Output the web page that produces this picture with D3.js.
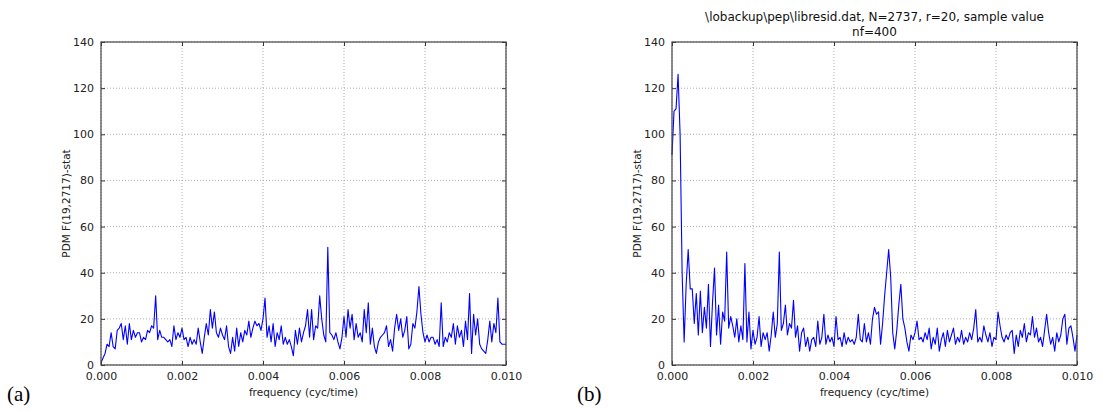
<!DOCTYPE html>
<html><head><meta charset="utf-8">
<script src="https://cdn.jsdelivr.net/npm/d3@7"></script>
<style>body{margin:0;background:#fff;}svg{display:block;}</style>
</head><body>
<svg id="c" width="1110" height="412"></svg>
<script>
// ---- data ----
const freqStep = 0.00005; // sampling grid of the frequency axis
const valuesA = [1,3,5,9,8,14,8,7,15,16,18,11,17,9,18,11,15,12,14,14,
10,12,11,15,14,17,16,30,11,15,12,12,11,10,11,8,17,11,14,12,
16,11,12,8,12,9,11,9,16,10,5,12,18,13,24,16,23,14,12,16,
13,11,17,8,5,12,6,16,8,14,10,15,13,19,12,16,19,17,18,15,
20,29,12,17,10,18,8,14,11,17,9,12,9,11,8,4,15,9,16,10,
14,17,24,12,24,11,17,16,30,20,13,10,51,14,13,11,14,10,7,12,
21,12,24,16,22,11,18,12,14,10,24,14,27,9,16,8,5,10,12,13,
14,17,8,11,6,16,22,15,20,12,15,21,7,9,18,16,23,34,22,14,
10,13,10,12,12,9,11,8,27,8,12,10,14,12,18,9,17,12,15,8,
19,11,31,5,22,13,20,9,7,6,5,11,19,10,18,14,29,10,9,9,9];
const valuesB = [91,110,111,126,100,40,10,35,50,33,33,18,31,13,32,14,25,16,35,8,
27,42,13,26,9,23,19,49,16,21,17,12,20,10,17,11,44,10,23,7,
15,9,12,21,8,14,11,14,6,13,23,12,18,49,15,18,26,13,18,16,
28,12,17,6,14,16,8,12,6,11,12,8,19,9,12,22,9,13,10,12,
8,21,11,12,8,14,9,12,10,11,9,12,22,11,10,18,10,14,9,20,
25,22,23,9,18,30,40,50,38,14,7,15,26,35,20,16,10,6,13,11,
14,19,11,12,10,14,11,16,7,12,9,16,6,11,14,8,15,10,13,16,
9,12,10,15,9,12,10,14,11,16,24,10,12,10,17,13,10,14,8,12,
11,23,17,12,10,13,11,14,15,5,13,8,15,12,18,10,14,13,21,12,
16,10,12,8,15,22,14,9,12,6,14,10,13,20,22,9,16,17,12,6,13];
const xTicks = [0.000,0.002,0.004,0.006,0.008,0.010];
const yTicks = [0,20,40,60,80,100,120,140];
const xLabel = "frequency (cyc/time)";
const yLabel = "PDM F(19,2717)-stat";
const titleLines = ["\\lobackup\\pep\\libresid.dat, N=2737, r=20, sample value", "nf=400"];

const svg = d3.select("#c");
const font = "'DejaVu Sans', sans-serif";

function panel(left, values, tag, tagX, title) {
  const top = 42, w = 405, h = 323;
  const x = d3.scaleLinear().domain([0, 0.01]).range([left, left + w]);
  const y = d3.scaleLinear().domain([0, 140]).range([top + h, top]);
  const g = svg.append("g");
  // grid
  g.selectAll(".gx").data(xTicks).enter().append("line")
    .attr("x1", d => x(d)).attr("x2", d => x(d)).attr("y1", top).attr("y2", top + h)
    .attr("stroke", "#9a9a9a").attr("stroke-width", 0.8).attr("stroke-dasharray", "1,2");
  g.selectAll(".gy").data(yTicks).enter().append("line")
    .attr("x1", left).attr("x2", left + w).attr("y1", d => y(d)).attr("y2", d => y(d))
    .attr("stroke", "#9a9a9a").attr("stroke-width", 0.8).attr("stroke-dasharray", "1,2");
  // line
  const line = d3.line().x((d, i) => x(i * freqStep)).y(d => y(d));
  g.append("path").datum(values).attr("d", line).attr("fill", "none")
    .attr("stroke", "#0000ff").attr("stroke-width", 1.1).attr("stroke-linejoin", "round");
  // axes
  const ax = g.append("g").attr("transform", `translate(0,${top + h})`)
    .call(d3.axisBottom(x).tickValues(xTicks).tickFormat(d3.format(".3f")).tickSizeInner(-4).tickSizeOuter(0).tickPadding(7));
  const axT = g.append("g").attr("transform", `translate(0,${top})`)
    .call(d3.axisTop(x).tickValues(xTicks).tickFormat("").tickSizeInner(-4).tickSizeOuter(0));
  const ay = g.append("g").attr("transform", `translate(${left},0)`)
    .call(d3.axisLeft(y).tickValues(yTicks).tickSizeInner(-4).tickSizeOuter(0).tickPadding(7));
  const ayR = g.append("g").attr("transform", `translate(${left + w},0)`)
    .call(d3.axisRight(y).tickValues(yTicks).tickFormat("").tickSizeInner(-4).tickSizeOuter(0));
  [ax, axT, ay, ayR].forEach(a => {
    a.select(".domain").remove();
    a.selectAll("line").attr("stroke", "#333");
    a.selectAll("text").attr("font-family", font).attr("font-size", 11).attr("fill", "#222");
  });
  // frame
  g.append("rect").attr("x", left).attr("y", top).attr("width", w).attr("height", h)
    .attr("fill", "none").attr("stroke", "#444").attr("stroke-width", 1.2);
  // labels
  g.append("text").attr("x", left + w / 2).attr("y", 396).attr("text-anchor", "middle")
    .attr("font-family", font).attr("font-size", 10.5).attr("fill", "#222").text(xLabel);
  g.append("text").attr("transform", `translate(${left - 31},${top + h / 2}) rotate(-90)`)
    .attr("text-anchor", "middle").attr("font-family", font).attr("font-size", 10.5)
    .attr("fill", "#222").text(yLabel);
  g.append("text").attr("x", tagX).attr("y", 401).attr("font-family", "'Liberation Serif', 'Times New Roman', serif")
    .attr("font-size", 21).attr("fill", "#000").text(tag);
  if (title) {
    title.forEach((t, i) => {
      g.append("text").attr("x", left + w / 2).attr("y", 21 + i * 15).attr("text-anchor", "middle")
        .attr("font-family", font).attr("font-size", 12).attr("fill", "#111").text(t);
    });
  }
}
panel(101, valuesA, "(a)", 7, null);
panel(672, valuesB, "(b)", 577, titleLines);
</script>
</body></html>
